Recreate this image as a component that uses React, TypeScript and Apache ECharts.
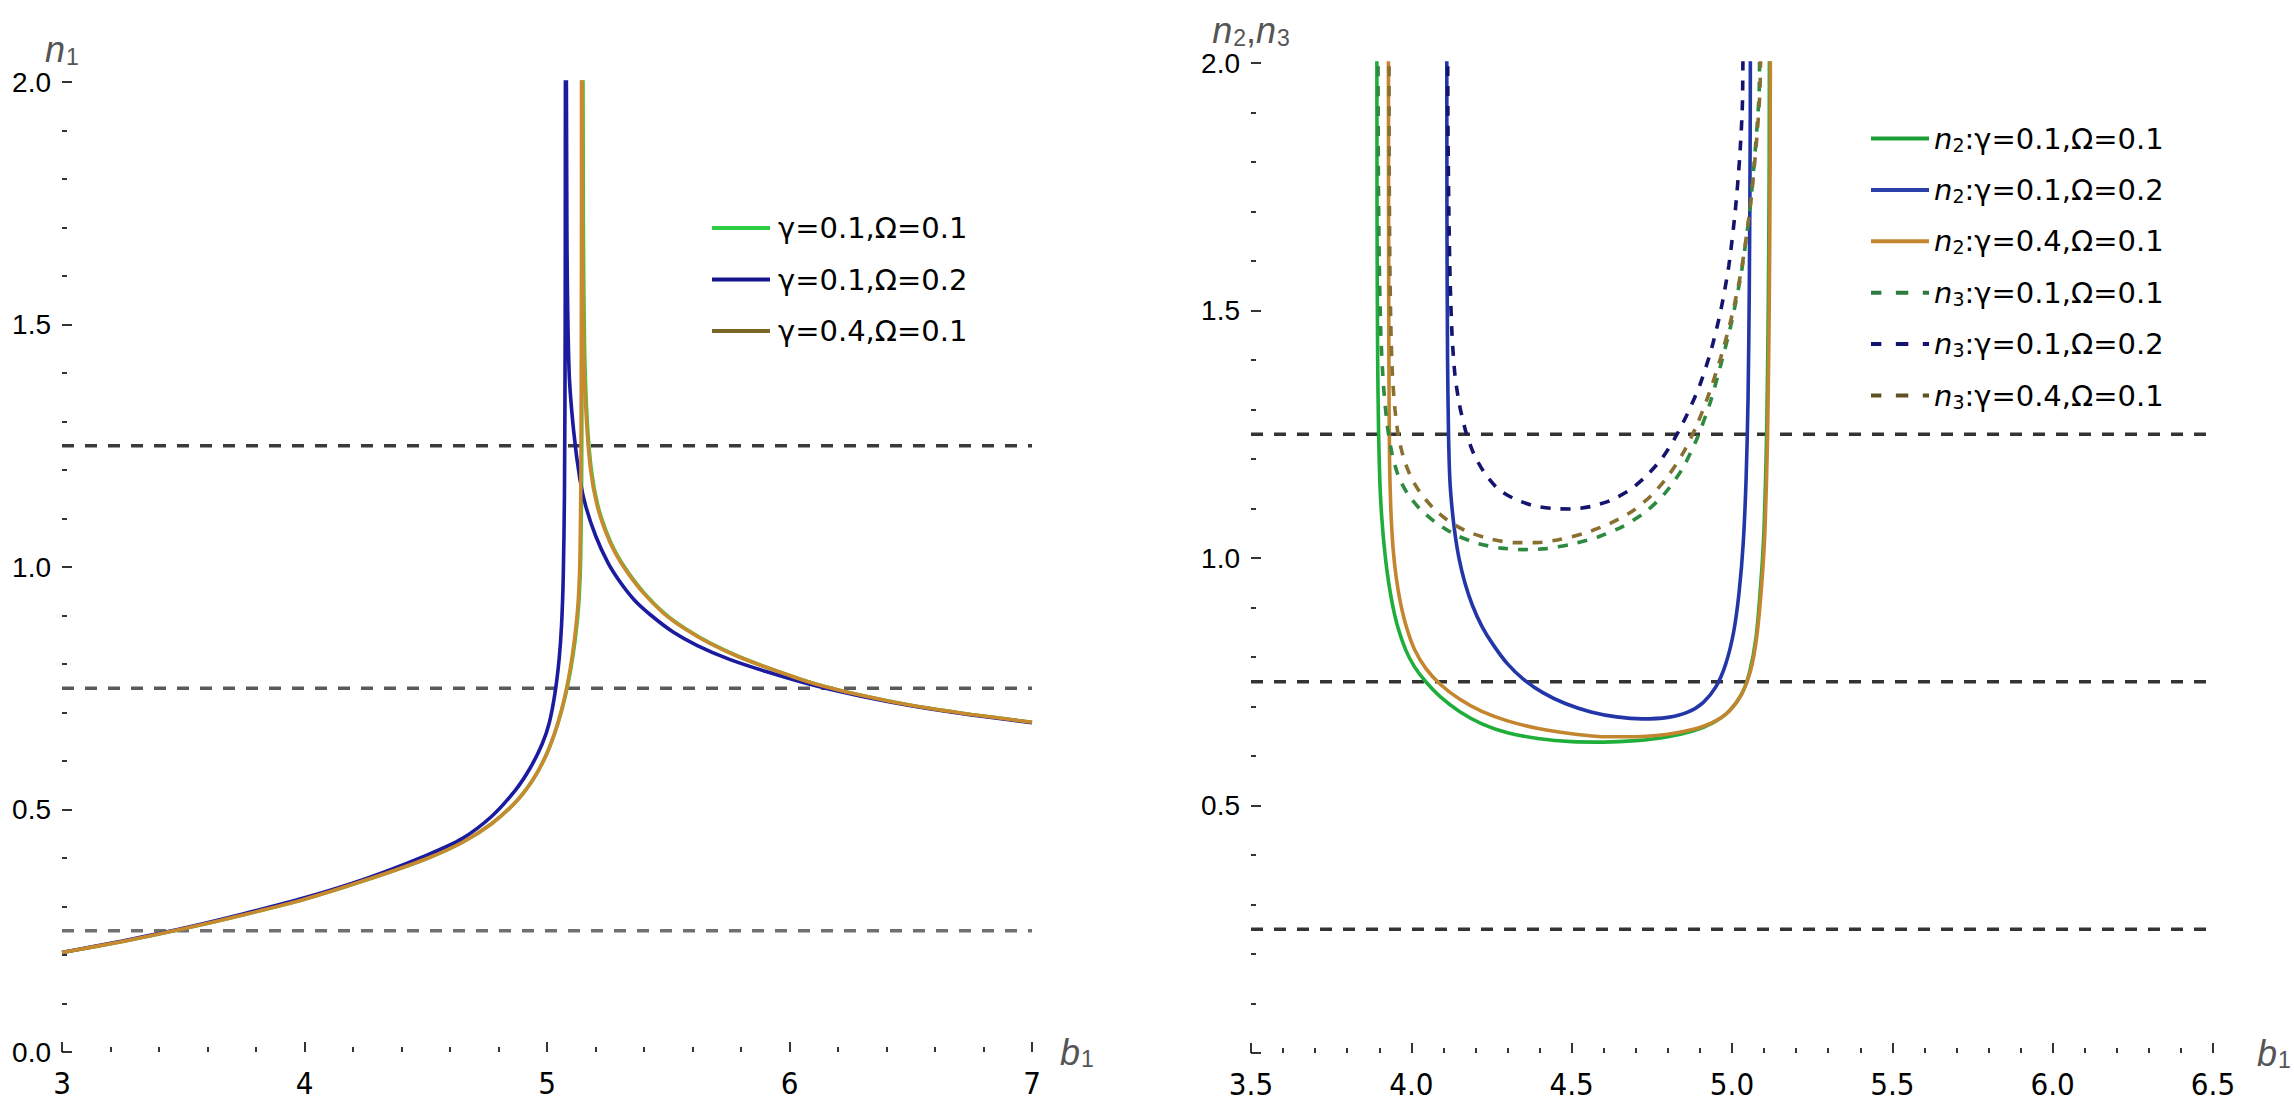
import React, { useEffect, useRef } from "react";
import * as echarts from "echarts";

// ---------- axes / reference levels ----------
const leftXTicks = [3, 4, 5, 6, 7];
const rightXTicks = [3.5, 4.0, 4.5, 5.0, 5.5, 6.0, 6.5];
const yTicks = [0, 0.5, 1.0, 1.5, 2.0];
const leftLevels = [1.25, 0.75, 0.25];
const rightLevels = [1.25, 0.75, 0.25];
const leftLevelColors = ["#3a3a3a", "#5a5a5a", "#707070"];
const rightLevelColors = ["#333333", "#333333", "#333333"];

// ---------- left panel: n1 ----------
const leftNames = ["γ=0.1,Ω=0.1", "γ=0.1,Ω=0.2", "γ=0.4,Ω=0.1"];

const n1_g01_o01: number[][] = [
  [3.0, 0.205], [3.25, 0.228], [3.5, 0.254], [3.75, 0.283], [4.0, 0.315], [4.25, 0.354],
  [4.5, 0.398], [4.65, 0.432], [4.77, 0.47], [4.87, 0.515], [4.94, 0.56], [4.99, 0.605],
  [5.03, 0.655], [5.06, 0.703], [5.087, 0.76], [5.108, 0.82], [5.123, 0.88], [5.133, 0.94],
  [5.139, 1.02], [5.143, 1.2], [5.145, 1.6], [5.146, 2.6],
  [5.148, 2.6], [5.15, 1.7], [5.155, 1.45], [5.166, 1.3], [5.183, 1.2], [5.208, 1.13],
  [5.243, 1.075], [5.283, 1.03], [5.333, 0.99], [5.403, 0.945], [5.483, 0.905], [5.573, 0.872],
  [5.673, 0.843], [5.793, 0.815], [5.95, 0.785], [6.1, 0.76], [6.3, 0.735], [6.5, 0.715],
  [6.75, 0.696], [7.0, 0.68],
];

const n1_g01_o02: number[][] = [
  [3.0, 0.205], [3.25, 0.229], [3.5, 0.255], [3.75, 0.285], [4.0, 0.318], [4.25, 0.357],
  [4.5, 0.405], [4.65, 0.44], [4.77, 0.485], [4.87, 0.54], [4.93, 0.585], [4.98, 0.635],
  [5.01, 0.68], [5.033, 0.74], [5.05, 0.81], [5.06, 0.88], [5.067, 0.98], [5.072, 1.15],
  [5.075, 1.5], [5.077, 2.6],
  [5.079, 2.6], [5.082, 1.7], [5.091, 1.405], [5.11, 1.28], [5.136, 1.18], [5.16, 1.125],
  [5.2, 1.065], [5.25, 1.01], [5.3, 0.97], [5.36, 0.932], [5.43, 0.9], [5.52, 0.866],
  [5.62, 0.838], [5.75, 0.81], [5.9, 0.785], [6.1, 0.756], [6.3, 0.733], [6.5, 0.714],
  [6.75, 0.695], [7.0, 0.679],
];

const n1_g04_o01: number[][] = [
  [3.0, 0.205], [3.25, 0.228], [3.5, 0.254], [3.75, 0.283], [4.0, 0.315], [4.25, 0.354],
  [4.5, 0.398], [4.65, 0.432], [4.77, 0.47], [4.87, 0.515], [4.94, 0.56], [4.99, 0.605],
  [5.03, 0.655], [5.06, 0.705], [5.085, 0.76], [5.105, 0.82], [5.12, 0.88], [5.13, 0.94],
  [5.136, 1.02], [5.14, 1.2], [5.142, 1.6], [5.143, 2.6],
  [5.144, 2.6], [5.146, 1.75], [5.151, 1.45], [5.163, 1.3], [5.18, 1.2], [5.205, 1.13],
  [5.24, 1.075], [5.28, 1.03], [5.33, 0.99], [5.4, 0.945], [5.48, 0.905], [5.57, 0.872],
  [5.67, 0.843], [5.79, 0.815], [5.95, 0.785], [6.1, 0.76], [6.3, 0.735], [6.5, 0.715],
  [6.75, 0.696], [7.0, 0.68],
];

// ---------- right panel: n2 (solid) and n3 (dashed) ----------
const rightNames = [
  "n2:γ=0.1,Ω=0.1",
  "n2:γ=0.1,Ω=0.2",
  "n2:γ=0.4,Ω=0.1",
  "n3:γ=0.1,Ω=0.1",
  "n3:γ=0.1,Ω=0.2",
  "n3:γ=0.4,Ω=0.1",
];

const n2_g01_o01: number[][] = [
  [3.892, 2.6], [3.893, 1.7], [3.895, 1.4], [3.898, 1.25], [3.902, 1.15], [3.908, 1.08],
  [3.916, 1.02], [3.926, 0.965], [3.94, 0.91], [3.958, 0.86], [3.982, 0.815], [4.01, 0.78],
  [4.045, 0.75], [4.09, 0.72], [4.15, 0.69], [4.22, 0.665], [4.3, 0.647], [4.4, 0.635],
  [4.5, 0.629], [4.6, 0.628], [4.7, 0.631], [4.8, 0.639], [4.88, 0.651], [4.94, 0.667],
  [4.99, 0.69], [5.03, 0.725], [5.055, 0.77], [5.075, 0.84], [5.09, 0.95], [5.1, 1.06],
  [5.108, 1.25], [5.113, 1.5], [5.116, 1.8], [5.118, 2.6],
];

const n2_g01_o02: number[][] = [
  [4.11, 2.6], [4.111, 1.7], [4.113, 1.4], [4.116, 1.25], [4.12, 1.16], [4.127, 1.1],
  [4.137, 1.045], [4.15, 0.995], [4.167, 0.95], [4.19, 0.905], [4.22, 0.862], [4.255, 0.825],
  [4.3, 0.786], [4.35, 0.755], [4.41, 0.728], [4.48, 0.706], [4.56, 0.689], [4.64, 0.679],
  [4.72, 0.675], [4.8, 0.678], [4.86, 0.688], [4.91, 0.708], [4.95, 0.74], [4.98, 0.785],
  [5.005, 0.85], [5.022, 0.93], [5.035, 1.03], [5.044, 1.16], [5.05, 1.32], [5.054, 1.55],
  [5.057, 1.9], [5.058, 2.6],
];

const n2_g04_o01: number[][] = [
  [3.928, 2.6], [3.929, 1.7], [3.93, 1.4], [3.932, 1.2], [3.936, 1.1], [3.943, 1.02],
  [3.953, 0.96], [3.966, 0.91], [3.985, 0.86], [4.01, 0.815], [4.045, 0.777], [4.09, 0.745],
  [4.15, 0.715], [4.22, 0.69], [4.3, 0.671], [4.4, 0.655], [4.5, 0.645], [4.6, 0.639],
  [4.7, 0.639], [4.8, 0.644], [4.88, 0.654], [4.94, 0.668], [4.99, 0.69], [5.03, 0.725],
  [5.057, 0.77], [5.077, 0.84], [5.093, 0.95], [5.103, 1.06], [5.111, 1.25], [5.116, 1.5],
  [5.119, 1.8], [5.121, 2.6],
];

const n3_g01_o01: number[][] = [
  [3.895, 2.6], [3.897, 1.8], [3.9, 1.6], [3.905, 1.45], [3.913, 1.35], [3.925, 1.268],
  [3.94, 1.21], [3.96, 1.165], [3.99, 1.128], [4.03, 1.097], [4.08, 1.07], [4.14, 1.046],
  [4.21, 1.029], [4.28, 1.02], [4.35, 1.017], [4.42, 1.019], [4.5, 1.028], [4.58, 1.042],
  [4.66, 1.064], [4.73, 1.093], [4.79, 1.13], [4.845, 1.18], [4.89, 1.24], [4.93, 1.31],
  [4.965, 1.39], [5.0, 1.48], [5.03, 1.58], [5.055, 1.7], [5.072, 1.82], [5.085, 1.95],
  [5.09, 2.6],
];

const n3_g01_o02: number[][] = [
  [4.112, 2.6], [4.114, 1.9], [4.117, 1.7], [4.121, 1.56], [4.127, 1.45], [4.136, 1.37],
  [4.15, 1.31], [4.17, 1.255], [4.195, 1.21], [4.23, 1.17], [4.27, 1.14], [4.32, 1.12],
  [4.38, 1.106], [4.44, 1.1], [4.5, 1.099], [4.56, 1.104], [4.62, 1.116], [4.68, 1.137],
  [4.73, 1.164], [4.78, 1.2], [4.82, 1.24], [4.86, 1.29], [4.9, 1.35], [4.935, 1.42],
  [4.965, 1.5], [4.99, 1.59], [5.01, 1.7], [5.024, 1.81], [5.033, 1.93], [5.038, 2.6],
];

const n3_g04_o01: number[][] = [
  [3.93, 2.6], [3.931, 1.8], [3.933, 1.6], [3.936, 1.47], [3.941, 1.37], [3.949, 1.3],
  [3.96, 1.245], [3.977, 1.2], [4.0, 1.162], [4.03, 1.13], [4.07, 1.1], [4.12, 1.073],
  [4.18, 1.052], [4.25, 1.038], [4.32, 1.031], [4.39, 1.031], [4.46, 1.037], [4.54, 1.05],
  [4.62, 1.07], [4.69, 1.095], [4.75, 1.127], [4.8, 1.165], [4.85, 1.215], [4.89, 1.268],
  [4.93, 1.335], [4.965, 1.405], [5.0, 1.49], [5.03, 1.585], [5.057, 1.71], [5.075, 1.83],
  [5.088, 1.96], [5.094, 2.6],
];

// ---------- styling ----------
const leftColors = ["#2ecc40", "#1b1ba0", "#c98a2e"];
const leftLegendColors = ["#2ecc40", "#14148c", "#7a6628"];
const rightColors = ["#1fae3a", "#2236a8", "#c4852f", "#2d8a40", "#14146e", "#8a7030"];
const rightLegendColors = ["#1c9e34", "#2a40a8", "#c4852f", "#2d7a3e", "#14146e", "#5e5224"];

const TICK_FONT = "'Liberation Sans', Arial, sans-serif";
const XTICK_FONT = "'Liberation Sans Narrow', 'DejaVu Sans Condensed', 'Liberation Sans', sans-serif";
const LEGEND_FONT = "'DejaVu Sans', 'Liberation Sans', sans-serif";

const nameRich = {
  i: { fontStyle: "italic", fontSize: 36, fontFamily: TICK_FONT, color: "#555" },
  s: { fontSize: 23, fontFamily: TICK_FONT, color: "#555", padding: [14, 0, 0, 1] },
  c: { fontSize: 36, fontFamily: TICK_FONT, color: "#555" },
};

const legendRich = {
  i: { fontStyle: "italic", fontSize: 29, fontFamily: LEGEND_FONT, color: "#000", lineHeight: 30 },
  s: { fontSize: 19, fontFamily: LEGEND_FONT, color: "#000", lineHeight: 30, padding: [12, 0, 0, 0] },
};

const dashIcon = "path://M0,0h10v3h-10z M24,0h12v3h-12z M50,0h6v3h-6z";

function hline(level: number, range: number[], color: string, xi: number) {
  return {
    type: "line",
    xAxisIndex: xi,
    yAxisIndex: xi,
    data: [[range[0], level], [range[1], level]],
    symbol: "none",
    silent: true,
    z: 1,
    lineStyle: { color, width: 3.5, type: [12, 11] },
  };
}

function curve(name: string, data: number[][], color: string, xi: number, dashed: boolean) {
  return {
    type: "line",
    name,
    xAxisIndex: xi,
    yAxisIndex: xi,
    data,
    symbol: "none",
    smooth: 0.25,
    clip: true,
    z: 3,
    lineStyle: { color, width: 3.6, type: dashed ? [10, 10] : "solid" },
    itemStyle: { color },
  };
}

function yAxisCfg(gridIndex: number, showMin: boolean, nameText: string) {
  return {
    type: "value",
    gridIndex,
    min: yTicks[0],
    max: yTicks[yTicks.length - 1],
    interval: 0.5,
    name: nameText,
    nameLocation: "end",
    nameGap: 14,
    nameTextStyle: { rich: nameRich, align: "center" },
    axisLine: { show: false },
    splitLine: { show: false },
    axisTick: { show: true, inside: true, length: 10, lineStyle: { color: "#000", width: 1.6 } },
    minorTick: { show: true, splitNumber: 5, length: 5, lineStyle: { color: "#000", width: 1.6 } },
    axisLabel: {
      show: true,
      showMinLabel: showMin,
      margin: 11,
      fontSize: 28,
      fontFamily: TICK_FONT,
      color: "#000",
      formatter: (v: number) => v.toFixed(1),
    },
  };
}

function xAxisCfg(gridIndex: number, ticks: number[], interval: number, split: number, digits: number, gap: number) {
  return {
    type: "value",
    gridIndex,
    min: ticks[0],
    max: ticks[ticks.length - 1],
    interval,
    name: "{i|b}{s|1}",
    nameLocation: "end",
    nameGap: gap,
    nameTextStyle: { rich: nameRich, verticalAlign: "middle" },
    axisLine: { show: false, onZero: false },
    splitLine: { show: false },
    axisTick: { show: true, inside: true, length: 10, lineStyle: { color: "#000", width: 1.6 } },
    minorTick: { show: true, splitNumber: split, length: 5, lineStyle: { color: "#000", width: 1.6 } },
    axisLabel: {
      show: true,
      margin: 15,
      fontSize: 31,
      fontFamily: XTICK_FONT,
      color: "#000",
      formatter: (v: number) => v.toFixed(digits),
    },
  };
}

function legendLabel(name: string) {
  const m = name.match(/^n(\d):(.*)$/);
  if (m) return `{i|n}{s|${m[1]}}:${m[2]}`;
  return name;
}

export default function App() {
  const ref = useRef<HTMLDivElement>(null);

  useEffect(() => {
    document.body.style.margin = "0";
    if (!ref.current) return;
    const chart = echarts.init(ref.current, undefined, { renderer: "svg" });

    const leftData = [n1_g01_o01, n1_g01_o02, n1_g04_o01];
    const rightData = [n2_g01_o01, n2_g01_o02, n2_g04_o01, n3_g01_o01, n3_g01_o02, n3_g04_o01];

    const series: any[] = [];
    leftLevels.forEach((lv, i) => series.push(hline(lv, [leftXTicks[0], leftXTicks[leftXTicks.length - 1]], leftLevelColors[i], 0)));
    rightLevels.forEach((lv, i) => series.push(hline(lv, [rightXTicks[0], rightXTicks[rightXTicks.length - 1]], rightLevelColors[i], 1)));
    leftNames.forEach((nm, i) => series.push(curve(nm, leftData[i], leftColors[i], 0, false)));
    rightNames.forEach((nm, i) => series.push(curve(nm, rightData[i], rightColors[i], 1, i >= 3)));

    const option: any = {
      animation: false,
      backgroundColor: "#ffffff",
      grid: [
        { left: 62, top: 82, width: 970, height: 970, containLabel: false },
        { left: 1251, top: 63, width: 962, height: 990, containLabel: false },
      ],
      xAxis: [
        xAxisCfg(0, leftXTicks, 1, 5, 0, 28),
        xAxisCfg(1, rightXTicks, 0.5, 5, 1, 44),
      ],
      yAxis: [
        yAxisCfg(0, true, "{i|n}{s|1}"),
        yAxisCfg(1, false, "{i|n}{s|2}{c|,}{i|n}{s|3}"),
      ],
      legend: [
        {
          orient: "vertical",
          left: 707,
          top: 208,
          itemWidth: 58,
          itemHeight: 4,
          itemGap: 21.5,
          symbolKeepAspect: false,
          selectedMode: false,
          itemStyle: { borderWidth: 0 },
          textStyle: { fontSize: 29, fontFamily: LEGEND_FONT, color: "#000", lineHeight: 30, padding: [0, 0, 0, 3] },
          data: leftNames.map((nm, i) => ({ name: nm, icon: "rect", itemStyle: { color: leftLegendColors[i], borderWidth: 0 } })),
        },
        {
          orient: "vertical",
          left: 1866,
          top: 118,
          itemWidth: 58,
          itemHeight: 4,
          itemGap: 20.4,
          symbolKeepAspect: false,
          selectedMode: false,
          itemStyle: { borderWidth: 0 },
          formatter: legendLabel,
          textStyle: { fontSize: 29, fontFamily: LEGEND_FONT, color: "#000", lineHeight: 30, rich: legendRich },
          data: rightNames.map((nm, i) => ({
            name: nm,
            icon: i >= 3 ? dashIcon : "rect",
            itemStyle: { color: rightLegendColors[i], borderWidth: 0 },
          })),
        },
      ],
      series,
    };

    chart.setOption(option);
    return () => chart.dispose();
  }, []);

  return (
    <div
      ref={ref}
      style={{ position: "absolute", left: 0, top: 0, width: 2294, height: 1103, background: "#fff" }}
    />
  );
}
